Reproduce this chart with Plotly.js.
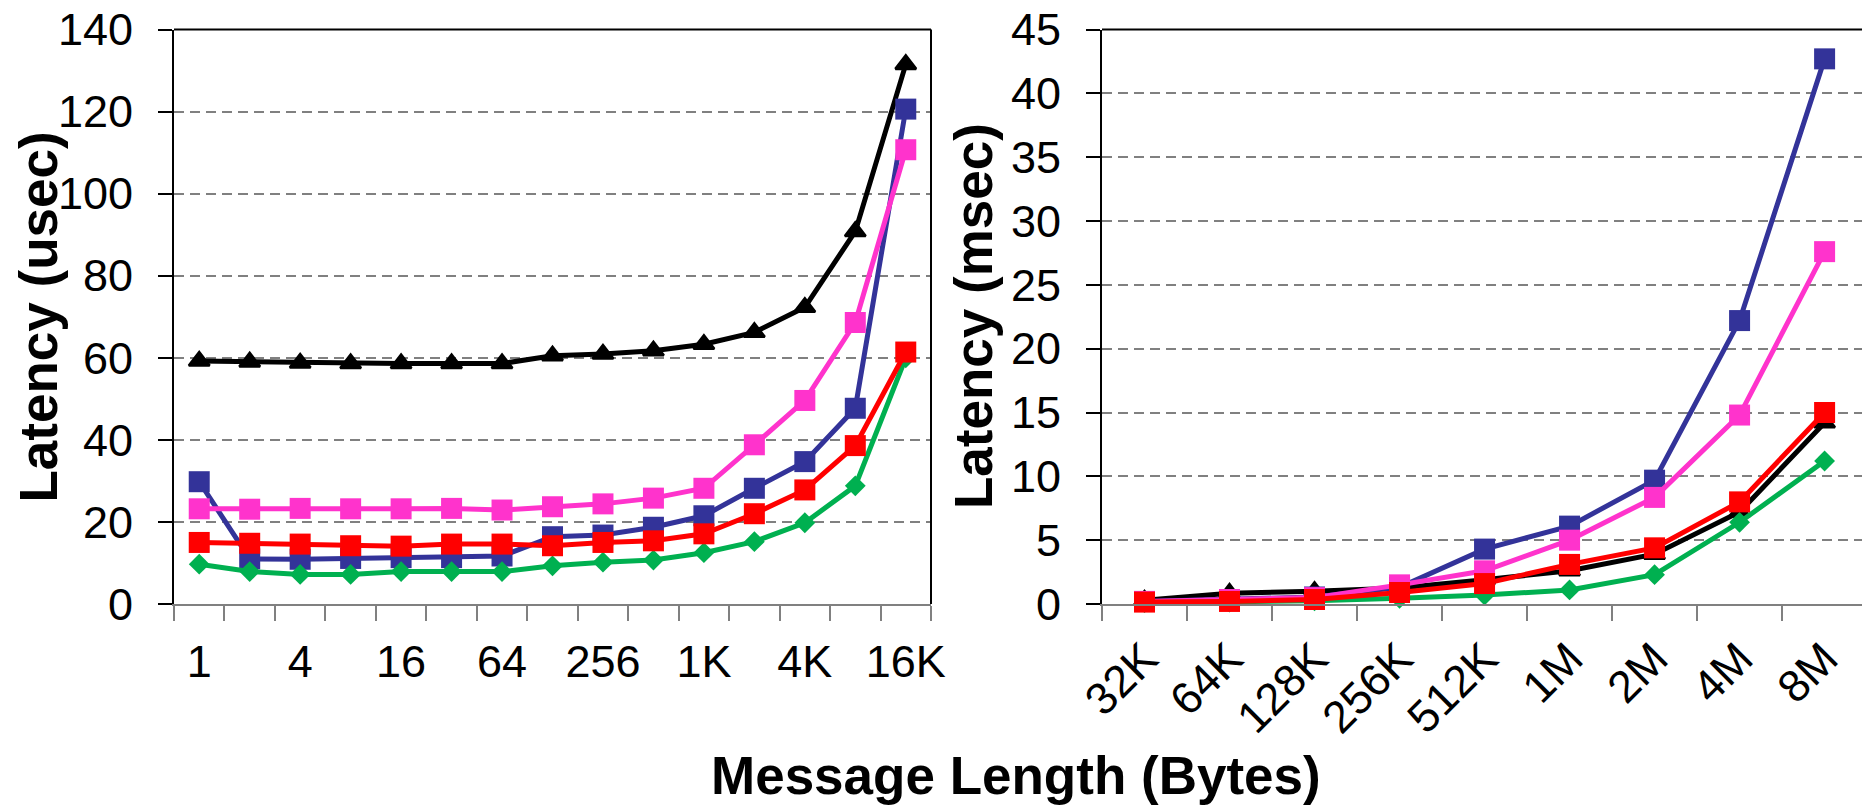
<!DOCTYPE html>
<html>
<head>
<meta charset="utf-8">
<script src="https://cdn.plot.ly/plotly-3.0.1.min.js"></script>
<style>
  html, body { margin: 0; padding: 0; background: #fff; }
  #chart { width: 1862px; height: 806px; }
</style>
</head>
<body>
<div id="chart"></div>
<script>
// ---- Data ----
const smallSizes = ['1','2','4','8','16','32','64','128','256','512','1K','2K','4K','8K','16K'];
const largeSizes = ['32K','64K','128K','256K','512K','1M','2M','4M','8M'];
// tick labels shown on the left axis (others hidden)
const smallTickLabels = ['1','4','16','64','256','1K','4K','16K'];

// Left panel: latency in usec
const blackSmall   = [59.2, 59.0, 58.7, 58.6, 58.6, 58.6, 58.6, 60.5, 60.9, 61.7, 63.3, 66.2, 72.3, 90.8, 131.5];
const blueSmall    = [29.8, 11.0, 10.9, 11.1, 11.3, 11.3, 11.7, 16.4, 16.8, 18.7, 21.5, 28.2, 34.7, 47.7, 120.6];
const magentaSmall = [23.2, 23.1, 23.3, 23.2, 23.2, 23.3, 22.9, 23.7, 24.4, 25.8, 28.2, 38.8, 49.6, 68.6, 110.7];
const redSmall     = [15.0, 14.8, 14.6, 14.2, 14.1, 14.6, 14.6, 14.2, 15.0, 15.4, 17.1, 22.0, 27.8, 38.6, 61.4];
const greenSmall   = [9.7, 7.9, 7.2, 7.2, 7.9, 7.9, 7.9, 9.3, 10.2, 10.7, 12.5, 15.2, 19.8, 28.8, 60.0];

// Right panel: latency in msec
const blackLarge   = [0.3, 0.85, 1.0, 1.25, 1.9, 2.6, 3.9, 7.2, 14.2];
const blueLarge    = [0.2, 0.35, 0.55, 1.3, 4.3, 6.1, 9.7, 22.2, 42.7];
const magentaLarge = [0.2, 0.35, 0.5, 1.5, 2.6, 5.0, 8.35, 14.8, 27.6];
const redLarge     = [0.15, 0.2, 0.35, 0.9, 1.6, 3.1, 4.4, 8.0, 15.0];
const greenLarge   = [0.1, 0.15, 0.25, 0.45, 0.7, 1.1, 2.3, 6.4, 11.2];

const yTitleLeft = 'Latency (usec)';
const yTitleRight = 'Latency (msec)';
const xTitle = 'Message Length (Bytes)';

// ---- Styles ----
const FONT = 'Liberation Sans, Arial, Helvetica, sans-serif';
const styles = {
  black:   {color: '#000000', symbol: 'triangle-up', size: 18, lw: 2.5},
  blue:    {color: '#333399', symbol: 'square', size: 21, lw: 0},
  magenta: {color: '#FF33CC', symbol: 'square', size: 21, lw: 0},
  green:   {color: '#00B050', symbol: 'diamond', size: 16, lw: 0},
  red:     {color: '#FF0000', symbol: 'square', size: 21, lw: 0}
};

function series(x, y, st, xa, ya) {
  return {
    x: x, y: y, xaxis: xa, yaxis: ya,
    type: 'scatter', mode: 'lines+markers',
    line: {color: st.color, width: 5},
    marker: {color: st.color, symbol: st.symbol, size: st.size,
             line: {color: st.color, width: st.lw}},
    showlegend: false, hoverinfo: 'x+y', cliponaxis: false
  };
}

const traces = [
  series(smallSizes, blackSmall, styles.black, 'x', 'y'),
  series(smallSizes, blueSmall, styles.blue, 'x', 'y'),
  series(smallSizes, magentaSmall, styles.magenta, 'x', 'y'),
  series(smallSizes, greenSmall, styles.green, 'x', 'y'),
  series(smallSizes, redSmall, styles.red, 'x', 'y'),
  series(largeSizes, blackLarge, styles.black, 'x2', 'y2'),
  series(largeSizes, blueLarge, styles.blue, 'x2', 'y2'),
  series(largeSizes, magentaLarge, styles.magenta, 'x2', 'y2'),
  series(largeSizes, greenLarge, styles.green, 'x2', 'y2'),
  series(largeSizes, redLarge, styles.red, 'x2', 'y2')
];

// hide labels for categories that are not in smallTickLabels
const alias = {};
smallSizes.forEach(s => { if (!smallTickLabels.includes(s)) alias[s] = ''; });

const W = 1862, H = 806;
const yDom = [1 - 604 / H, 1 - 29.5 / H];

const xCommon = {
  type: 'category', tickmode: 'linear', tick0: 0, dtick: 1,
  tickson: 'boundaries', ticks: 'outside', ticklen: 15, tickwidth: 2,
  tickcolor: '#808080', showline: true, linecolor: '#808080', linewidth: 2,
  showgrid: false, zeroline: false, fixedrange: true,
  tickfont: {family: FONT, size: 45, color: '#000'}
};
const yCommon = {
  showline: true, linecolor: '#000', linewidth: 2,
  ticks: 'outside', ticklen: 14, tickwidth: 2, tickcolor: '#000',
  showgrid: true, gridcolor: '#808080', gridwidth: 2, griddash: '10px,6px',
  zeroline: false, tickmode: 'linear', tick0: 0, fixedrange: true,
  ticklabelstandoff: 16,
  tickfont: {family: FONT, size: 45, color: '#000'}
};

const layout = {
  width: W, height: H,
  margin: {l: 0, r: 0, t: 0, b: 0},
  paper_bgcolor: '#fff', plot_bgcolor: '#fff',
  font: {family: FONT, color: '#000'},
  showlegend: false,
  xaxis: Object.assign({}, xCommon, {
    domain: [174 / W, 931 / W], anchor: 'y',
    range: [-0.5, 14.5], tickangle: 0, labelalias: alias,
    ticklabelstandoff: 17
  }),
  yaxis: Object.assign({}, yCommon, {
    domain: yDom, anchor: 'x', range: [0, 140], dtick: 20
  }),
  xaxis2: Object.assign({}, xCommon, {
    domain: [1102 / W, 1], anchor: 'y2',
    range: [-0.5, 8.44], tickangle: -45,
    ticklabelstandoff: 8
  }),
  yaxis2: Object.assign({}, yCommon, {
    domain: yDom, anchor: 'x2', range: [0, 45], dtick: 5
  }),
  shapes: [
    {type: 'line', xref: 'x domain', yref: 'y domain', x0: 0, x1: 1, y0: 1, y1: 1,
     line: {color: '#000', width: 2}},
    {type: 'line', xref: 'x domain', yref: 'y domain', x0: 1, x1: 1, y0: 0, y1: 1,
     line: {color: '#000', width: 2}},
    {type: 'line', xref: 'x2 domain', yref: 'y2 domain', x0: 0, x1: 1, y0: 1, y1: 1,
     line: {color: '#000', width: 2}}
  ],
  annotations: [
    {text: '<b>' + yTitleLeft + '</b>', xref: 'paper', yref: 'paper',
     x: 37.5 / W, y: 1 - 317 / H, xanchor: 'center', yanchor: 'middle',
     textangle: -90, showarrow: false, font: {family: FONT, size: 53, color: '#000'}},
    {text: '<b>' + yTitleRight + '</b>', xref: 'paper', yref: 'paper',
     x: 974 / W, y: 1 - 316 / H, xanchor: 'center', yanchor: 'middle',
     textangle: -90, showarrow: false, font: {family: FONT, size: 53, color: '#000'}},
    {text: '<b>' + xTitle + '</b>', xref: 'paper', yref: 'paper',
     x: 1016 / W, y: 1 - 775 / H, xanchor: 'center', yanchor: 'middle',
     showarrow: false, font: {family: FONT, size: 53, color: '#000'}}
  ]
};

Plotly.newPlot('chart', traces, layout, {displayModeBar: false, staticPlot: true});
</script>
</body>
</html>
